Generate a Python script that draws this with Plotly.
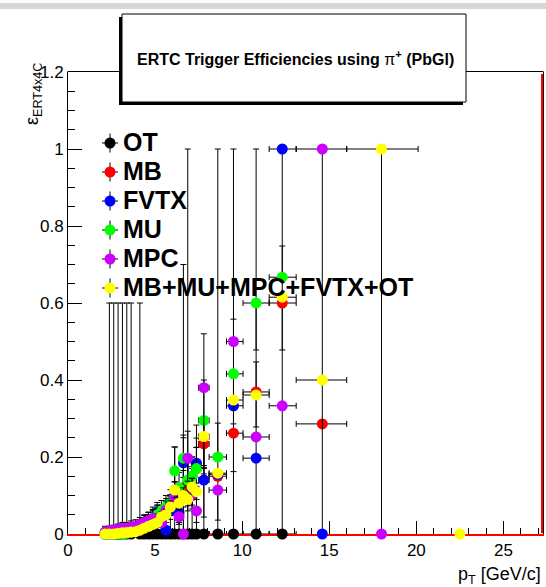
import plotly.graph_objects as go

# ---------------------------------------------------------------------------
# pT binning [GeV/c]: bin centres and lower / upper half-widths
# ---------------------------------------------------------------------------
pt = [2.125, 2.375, 2.625, 2.875, 3.125, 3.375, 3.625, 3.875, 4.125, 4.375,
      4.625, 4.875, 5.125, 5.375, 5.625, 5.875, 6.125, 6.375, 6.625, 6.875,
      7.125, 7.375, 7.8, 8.6, 9.5, 10.8, 12.3, 14.6, 18.0, 22.5]
pt_lo = [0.125, 0.125, 0.125, 0.125, 0.125, 0.125, 0.125, 0.125, 0.125, 0.125,
         0.125, 0.125, 0.125, 0.125, 0.125, 0.125, 0.125, 0.125, 0.125, 0.125,
         0.125, 0.125, 0.3, 0.5, 0.4, 0.75, 0.75, 1.5, 2.0, 2.5]
pt_hi = [0.125, 0.125, 0.125, 0.125, 0.125, 0.125, 0.125, 0.125, 0.125, 0.125,
         0.125, 0.125, 0.125, 0.125, 0.125, 0.125, 0.125, 0.125, 0.125, 0.125,
         0.125, 0.125, 0.3, 0.5, 0.55, 0.75, 0.8, 1.4, 2.1, 2.5]

# ---------------------------------------------------------------------------
# ERT4x4C efficiencies per trigger sample, with asymmetric errors
# ---------------------------------------------------------------------------
eff_ot = [None, 0, 0, 0, 0, 0, 0, None, 0, 0,
          0, 0, 0, 0, 0, 0, 0, 0, 0, 0,
          0, 0, 0, 0, 0, 0, 0, None, None, None]
eff_ot_lo = [0, 0, 0, 0, 0, 0, 0, 0, 0, 0,
             0, 0, 0, 0, 0, 0, 0, 0, 0, 0,
             0, 0, 0, 0, 0, 0, 0, 0, 0, 0]
eff_ot_hi = [0, 0.6, 0.6, 0.6, 0.6, 0.6, 0.6, 0, 0.6, 0.04,
             0.05, 0.07, 0.075, 0.06, 0.05, 0.06, 0.226, 0.12, 0.7, 1.0,
             0.1, 0.283, 0.3, 1.0, 1.0, 1.0, 1.0, 0, 0, 0]

eff_mb = [0, 0, 0, 0, 0, 0.003, 0.005, 0.008, 0.01, 0.015,
          0.02, 0.028, 0.035, 0.045, 0.06, 0.07, 0.09, 0.093, 0.12, 0.13,
          0.15, 0.17, 0.234, 0.15, 0.262, 0.369, 0.6, 0.286, None, None]
eff_mb_lo = [0, 0, 0, 0, 0, 0.003, 0.004, 0.005, 0.006, 0.008,
             0.01, 0.012, 0.014, 0.016, 0.02, 0.022, 0.03, 0.03, 0.04, 0.04,
             0.045, 0.05, 0.078, 0, 0.1, 0, 0.122, 0, 0, 0]
eff_mb_hi = [0.02, 0.02, 0.015, 0.015, 0.012, 0.01, 0.012, 0.014, 0.015, 0.016,
             0.017, 0.02, 0.02, 0.022, 0.025, 0.028, 0.035, 0.035, 0.045, 0.045,
             0.05, 0.055, 0, 0, 0, 0.078, 0, 0, 0, 0]

eff_fvtx = [0, 0, 0, 0, 0.002, 0.005, 0.01, 0.015, 0.02, 0.03,
            0.036, 0.04, 0.057, 0.05, 0.01, 0.06, 0.08, 0.055, 0.185, 0.1,
            0.12, 0.184, 0.14, 0.155, 0.333, 0.197, 1.0, 0.0, None, None]
eff_fvtx_lo = [0, 0, 0, 0, 0.002, 0.004, 0.006, 0.008, 0.01, 0.012,
               0.014, 0.015, 0.02, 0.02, 0.01, 0.022, 0.03, 0.025, 0.06, 0.04,
               0.045, 0.06, 0.096, 0, 0, 0, 0, 0, 0, 0]
eff_fvtx_hi = [0.015, 0.015, 0.012, 0.012, 0.01, 0.012, 0.013, 0.015, 0.016, 0.018,
               0.02, 0.02, 0.025, 0.025, 0.02, 0.027, 0.035, 0.03, 0.065, 0.045,
               0.05, 0.065, 0.03, 0, 0, 0, 0, 1.0, 0, 0]

eff_mu = [0, 0, 0, 0, 0, 0.002, 0.005, 0.01, 0.015, 0.02,
          0.03, 0.04, 0.05, 0.06, 0.07, 0.083, 0.164, 0.12, 0.197, 0.14,
          0.15, 0.17, 0.295, 0.2, 0.416, 0.6, 0.667, None, None, None]
eff_mu_lo = [0, 0, 0, 0, 0, 0.002, 0.004, 0.006, 0.008, 0.01,
             0.012, 0.015, 0.018, 0.02, 0.022, 0.025, 0.04, 0.035, 0.05, 0.04,
             0.045, 0.05, 0.117, 0, 0.13, 0.122, 0, 0, 0, 0]
eff_mu_hi = [0.015, 0.015, 0.012, 0.012, 0.01, 0.01, 0.012, 0.014, 0.015, 0.017,
             0.02, 0.022, 0.025, 0.027, 0.03, 0.032, 0.062, 0.04, 0.06, 0.045,
             0.05, 0.055, 0.105, 0.088, 0, 0, 0.081, 0, 0, 0]

eff_mpc = [0.005, 0.008, 0.01, 0.012, 0.015, 0.015, 0.018, 0.02, 0.025, 0.03,
           0.035, 0.04, 0.03, 0.03, 0.062, 0.07, 0.095, 0.045, 0.0, 0.197,
           0.1, 0.06, 0.38, 0.114, 0.5, 0.252, 0.333, 1.0, 0.0, None]
eff_mpc_lo = [0.004, 0.005, 0.006, 0.006, 0.007, 0.007, 0.008, 0.008, 0.01, 0.01,
              0.012, 0.013, 0.012, 0.012, 0.02, 0.022, 0.03, 0.02, 0, 0.06,
              0.035, 0.03, 0.12, 0.078, 0, 0, 0, 0, 0, 0]
eff_mpc_hi = [0.01, 0.012, 0.013, 0.014, 0.015, 0.015, 0.016, 0.017, 0.018, 0.02,
              0.022, 0.024, 0.022, 0.022, 0.03, 0.032, 0.04, 0.03, 0.07, 0.07,
              0.045, 0.04, 0.14, 0, 0.058, 0, 0, 0, 1.0, 0]

eff_all = [0.0, 0.0, 0.0, 0.002, 0.003, 0.004, 0.005, 0.006, 0.01, 0.015,
           0.02, 0.025, 0.03, 0.045, 0.05, 0.07, 0.114, 0.08, 0.1, 0.09,
           0.122, 0.11, 0.253, 0.158, 0.348, 0.361, 0.615, 0.4, 1.0, 0.0]
eff_all_lo = [0, 0, 0, 0.002, 0.002, 0.003, 0.003, 0.003, 0.004, 0.005,
              0.006, 0.007, 0.008, 0.01, 0.01, 0.013, 0.02, 0.015, 0.018, 0.017,
              0.02, 0.02, 0.08, 0, 0, 0.083, 0, 0, 0, 0]
eff_all_hi = [0.006, 0.006, 0.006, 0.006, 0.006, 0.006, 0.007, 0.007, 0.008, 0.009,
              0.01, 0.011, 0.012, 0.013, 0.014, 0.016, 0.022, 0.018, 0.02, 0.02,
              0.022, 0.022, 0, 0, 0, 0, 0, 0, 0, 0]

series_names = ["OT", "MB", "FVTX", "MU", "MPC", "MB+MU+MPC+FVTX+OT"]
series_colors = ["#000000", "#ff0000", "#0000ff", "#00ff00", "#cc00ff", "#ffff00"]
series_vals = [eff_ot, eff_mb, eff_fvtx, eff_mu, eff_mpc, eff_all]
series_lo = [eff_ot_lo, eff_mb_lo, eff_fvtx_lo, eff_mu_lo, eff_mpc_lo, eff_all_lo]
series_hi = [eff_ot_hi, eff_mb_hi, eff_fvtx_hi, eff_mu_hi, eff_mpc_hi, eff_all_hi]

# ---------------------------------------------------------------------------
# Canvas geometry (pixels)
# ---------------------------------------------------------------------------
W, H = 546, 587
ML, MR, MT, MB_ = 68, 3, 72, 53
PW, PH = W - ML - MR, H - MT - MB_
X_RANGE = [0, 27.27]
FONT = "Liberation Sans, Arial, Helvetica, sans-serif"


def px_x(px):
    return (px - ML) / PW


def px_y(py):
    return (H - MB_ - py) / PH


fig = go.Figure()

ebar = dict(type="data", symmetric=False, color="black", thickness=1, width=3)

for name, color, vals, lo, hi in zip(series_names, series_colors,
                                     series_vals, series_lo, series_hi):
    if name == "OT":
        xl, xh = pt_lo, pt_hi
    else:
        # horizontal bars only where the efficiency is non-zero
        xl = [w if (v is not None and v > 0) else 0 for w, v in zip(pt_lo, vals)]
        xh = [w if (v is not None and v > 0) else 0 for w, v in zip(pt_hi, vals)]
    fig.add_trace(go.Scatter(
        x=pt, y=vals, mode="markers", name=name,
        marker=dict(color=color, size=11, line=dict(width=0)),
        error_y=dict(ebar, array=hi, arrayminus=lo),
        error_x=dict(ebar, array=xh, arrayminus=xl),
        cliponaxis=False, showlegend=False,
    ))

shapes = [
    # canvas top strip
    dict(type="rect", xref="paper", yref="paper", x0=px_x(0), x1=px_x(W),
         y0=px_y(9), y1=px_y(3), fillcolor="#d6d6d6", line=dict(width=0),
         layer="above"),
    # top frame edge
    dict(type="line", xref="paper", yref="paper", x0=px_x(67.5), x1=px_x(543.5),
         y0=px_y(71.5), y1=px_y(71.5),
         line=dict(color="black", width=1), layer="above"),
    # red line along the right frame edge
    dict(type="line", xref="paper", yref="paper",
         x0=px_x(542), x1=px_x(542), y0=px_y(533), y1=px_y(74),
         line=dict(color="#ff0000", width=2), layer="below"),
    # title box shadow and box
    dict(type="rect", xref="paper", yref="paper", x0=px_x(119), x1=px_x(463),
         y0=px_y(105), y1=px_y(17), fillcolor="black", line=dict(width=0),
         layer="above"),
    dict(type="rect", xref="paper", yref="paper", x0=px_x(122), x1=px_x(466),
         y0=px_y(102), y1=px_y(14), fillcolor="white",
         line=dict(color="black", width=1), layer="above"),
]

annotations = []

# Legend: coloured dot with error cross, followed by the sample name
leg_x, leg_y0, leg_dy = 110, 143, 29
leg_r = 5.5
for i, (name, color) in enumerate(zip(series_names, series_colors)):
    yy = leg_y0 + i * leg_dy
    shapes.append(dict(type="line", xref="paper", yref="paper",
                       x0=px_x(leg_x - 8), x1=px_x(leg_x + 8),
                       y0=px_y(yy), y1=px_y(yy),
                       line=dict(color="black", width=1), layer="above"))
    shapes.append(dict(type="line", xref="paper", yref="paper",
                       x0=px_x(leg_x), x1=px_x(leg_x),
                       y0=px_y(yy - 9.5), y1=px_y(yy + 9.5),
                       line=dict(color="black", width=1), layer="above"))
    shapes.append(dict(type="circle", xref="paper", yref="paper",
                       x0=px_x(leg_x - leg_r), x1=px_x(leg_x + leg_r),
                       y0=px_y(yy + leg_r), y1=px_y(yy - leg_r),
                       fillcolor=color, line=dict(width=0), layer="above"))
    annotations.append(dict(
        x=px_x(leg_x + 11), y=px_y(yy - 1), xref="paper", yref="paper",
        xanchor="left", yanchor="middle", showarrow=False,
        text="<b>%s</b>" % name, font=dict(family=FONT, size=25, color="black"),
    ))

# Title in its shadowed box
annotations.append(dict(
    x=px_x(295), y=px_y(58), xref="paper", yref="paper",
    xanchor="center", yanchor="middle", showarrow=False,
    text="<b>ERTC Trigger Efficiencies using </b>π<b><sup>+</sup> (PbGl)</b>",
    font=dict(family=FONT, size=16, color="black"),
))
# Axis titles
annotations.append(dict(
    x=px_x(33), y=px_y(94), xref="paper", yref="paper",
    xanchor="center", yanchor="middle", showarrow=False, textangle=-90,
    text="ε<sub>ERT4x4C</sub>", font=dict(family=FONT, size=18, color="black"),
))
annotations.append(dict(
    x=px_x(543), y=px_y(575), xref="paper", yref="paper",
    xanchor="right", yanchor="middle", showarrow=False,
    text="p<sub>T</sub> [GeV/c]", font=dict(family=FONT, size=18, color="black"),
))

fig.update_layout(
    width=W, height=H,
    margin=dict(l=ML, r=MR, t=MT, b=MB_, pad=0),
    paper_bgcolor="white", plot_bgcolor="white",
    showlegend=False,
    font=dict(family=FONT, color="black"),
    xaxis=dict(
        range=X_RANGE, tick0=0, dtick=5, ticks="inside", ticklen=13,
        tickwidth=1, tickcolor="black", showgrid=False, zeroline=False,
        # the bottom edge doubles as the red zero-efficiency line
        showline=True, mirror=False, linecolor="#ff0000", linewidth=2,
        tickfont=dict(family=FONT, size=17, color="black"),
        layer="below traces",
        minor=dict(dtick=1, ticks="inside", ticklen=6, tickcolor="black",
                   showgrid=False),
    ),
    yaxis=dict(
        range=[0, 1.2], tick0=0, dtick=0.2, ticks="inside", ticklen=14,
        tickwidth=1, tickcolor="black", showgrid=False, zeroline=False,
        showline=True, mirror=True, linecolor="black", linewidth=1,
        tickfont=dict(family=FONT, size=17, color="black"),
        layer="below traces",
        minor=dict(dtick=0.05, ticks="inside", ticklen=7, tickcolor="black",
                   showgrid=False),
    ),
    annotations=annotations,
    shapes=shapes,
)

fig.write_html("out.html", config={"displayModeBar": False})
